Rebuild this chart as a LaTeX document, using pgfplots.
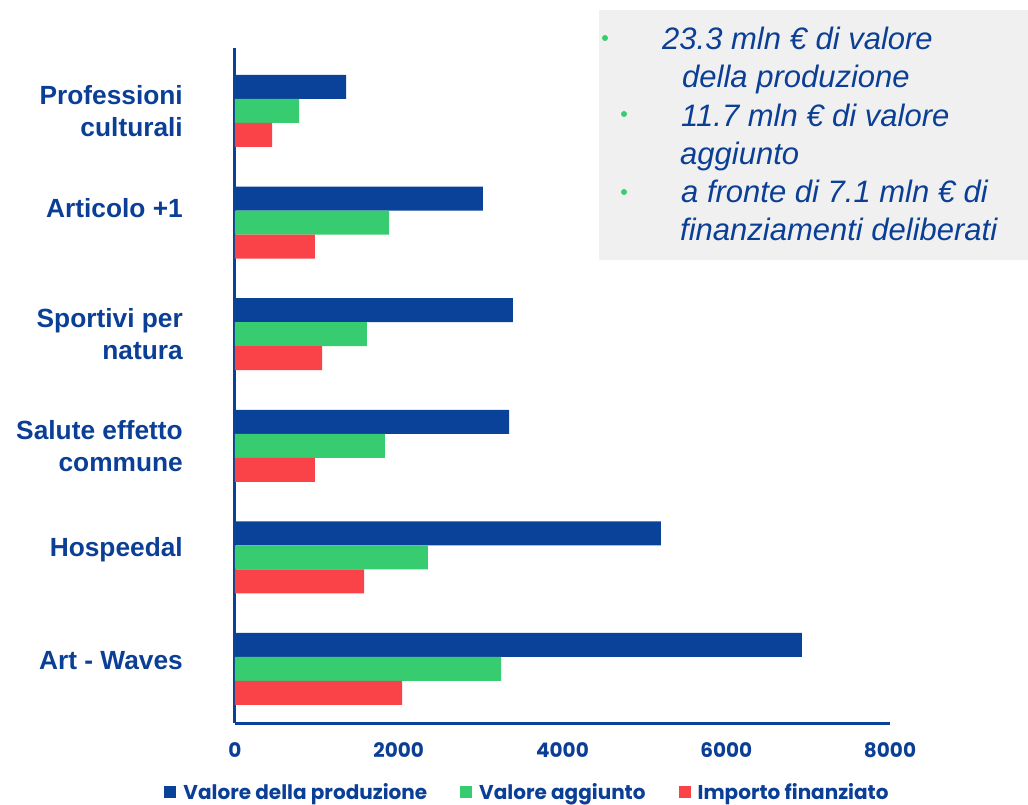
\documentclass[border=0pt]{standalone}
\usepackage{pgfplots}
\pgfplotsset{compat=1.18}
\usepackage{fontspec}
\setmainfont{Liberation Sans}
\newfontfamily\pop{Poppins}
\definecolor{cblue}{HTML}{0A4299}
\definecolor{cgreen}{HTML}{36CC6F}
\definecolor{cred}{HTML}{FA4349}
\definecolor{ctext}{HTML}{0B3F96}
\definecolor{cbox}{HTML}{F0F0F0}
\begin{document}
\begin{tikzpicture}[x=1pt,y=1pt]
\path (0,0) rectangle (1028,802);
\fill[cbox] (599,542) rectangle (1028,792);
\begin{axis}[
  at={(235pt,79pt)}, anchor=south west,
  scale only axis, width=655pt, height=675pt,
  xbar, bar width=24pt,
  xmin=0, xmax=8000, ymin=-0.4839, ymax=5.5645,
  axis lines*=left,
  axis line style={draw=cblue, line width=3pt, -},
  major tick length=0pt,
  xtick={0,2000,4000,6000,8000},
  scaled x ticks=false,
  /pgf/number format/1000 sep={},
  /pgf/number format/assume math mode=true,
  xticklabel style={anchor=center, yshift=-27pt, font=\pop\bfseries\fontsize{20}{20}\selectfont, text=ctext},
  ytick={0,1,2,3,4,5},
  yticklabels={{\raisebox{17pt}{Art - Waves}}, {\raisebox{20pt}{Hospeedal}}, {Salute effetto\\commune}, {Sportivi per\\natura}, {\raisebox{29pt}{Articolo +1}}, {Professioni\\culturali}},
  yticklabel style={anchor=east, inner sep=0pt, xshift=-52pt, align=right, font=\bfseries\fontsize{26.3}{32}\selectfont, text=ctext},
  legend columns=3,
  legend style={draw=none, fill=none, at={(0.4466,-0.102)}, anchor=center,
    font=\pop\bfseries\fontsize{20}{20}\selectfont, text=ctext,
    /tikz/every odd column/.append style={column sep=5pt},
    /tikz/every even column/.append style={column sep=31pt}},
  legend image code/.code={\fill[#1,draw=none] (0pt,-6pt) rectangle (12pt,6pt);},
]
\addplot[fill=cblue, draw=none, bar shift=24pt] coordinates {(6925,0) (5203,1) (3347,2) (3395,3) (3029,4) (1356,5)};
\addplot[fill=cgreen, draw=none, bar shift=0pt] coordinates {(3249,0) (2357,1) (1832,2) (1612,3) (1881,4) (782,5)};
\addplot[fill=cred, draw=none, bar shift=-24pt] coordinates {(2040,0) (1576,1) (977,2) (1063,3) (977,4) (452,5)};
\legend{Valore della produzione, Valore aggiunto, Importo finanziato}
\end{axis}
\begin{scope}[every node/.style={anchor=base west, inner sep=0pt, font=\itshape\fontsize{31}{31}\selectfont, text=ctext}]
\node at (662,752) {23.3 mln € di valore};
\node at (682,714) {della produzione};
\node at (681,675) {11.7 mln € di valore};
\node at (680,637) {aggiunto};
\node at (681,599) {a fronte di 7.1 mln € di};
\node at (680,561) {finanziamenti deliberati};
\end{scope}
\fill[cgreen] (605,764) circle (3);
\fill[cgreen] (624,688) circle (3);
\fill[cgreen] (624,610) circle (3);
\end{tikzpicture}
\end{document}
